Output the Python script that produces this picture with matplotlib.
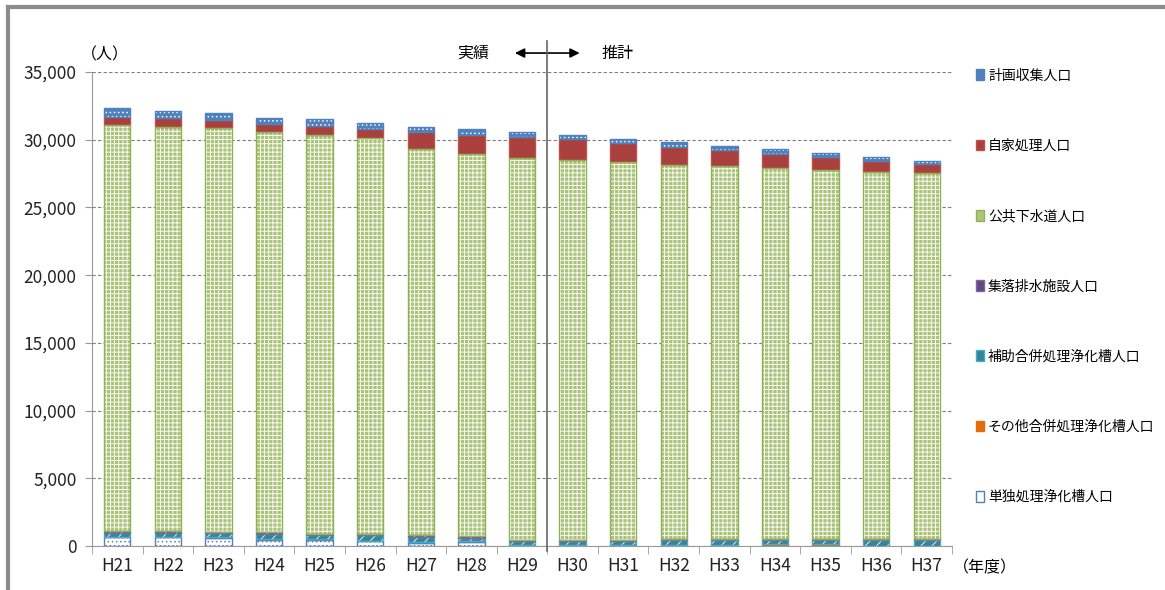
import matplotlib
matplotlib.use("Agg")
import matplotlib.pyplot as plt
import numpy as np
from matplotlib.lines import Line2D

plt.rcParams['font.family'] = ['Noto Sans CJK JP', 'DejaVu Sans']
plt.rcParams['hatch.linewidth'] = 0.6

years = ["H21", "H22", "H23", "H24", "H25", "H26", "H27", "H28", "H29",
         "H30", "H31", "H32", "H33", "H34", "H35", "H36", "H37"]

tandoku = [665, 665, 590, 470, 420, 345, 250, 300, 100, 70, 70, 70, 70, 0, 0, 0, 0]
sonota = [0, 0, 50, 75, 120, 30, 50, 75, 0, 0, 0, 0, 0, 120, 120, 0, 0]
hojo = [295, 295, 295, 370, 270, 420, 370, 220, 300, 300, 300, 350, 350, 300, 300, 440, 440]
shuraku = [125, 125, 125, 125, 100, 120, 120, 120, 75, 70, 70, 120, 120, 120, 120, 100, 100]
koukyou = [30005, 29865, 29790, 29540, 29470, 29225, 28510, 28255, 28185,
           28090, 27890, 27620, 27500, 27350, 27230, 27060, 26990]
jika = [570, 640, 570, 570, 640, 630, 1250, 1380, 1530, 1510, 1430, 1320, 1180, 1080, 960, 830, 660]
keikaku = [660, 560, 540, 490, 520, 490, 370, 420, 390, 290, 320, 330, 310, 320, 290, 300, 240]

labels = ["単独処理浄化槽人口", "その他合併処理浄化槽人口", "補助合併処理浄化槽人口",
          "集落排水施設人口", "公共下水道人口", "自家処理人口", "計画収集人口"]
series = [tandoku, sonota, hojo, shuraku, koukyou, jika, keikaku]
# (face, hatch color, hatch, edge)
styles = [
    ("white", "#4F81BD", "....", "#4F81BD"),
    ("#E46C0A", None, None, "#E46C0A"),
    ("#31859C", "white", "///", "#4BACC6"),
    ("#5F497A", "white", "\\\\\\", "#8064A2"),
    ("#ABC47A", "white", "++++", "#8EB453"),
    ("#A9403E", None, None, "#C0504D"),
    ("#4F81BD", "white", "....", "#4F81BD"),
]

fig = plt.figure(figsize=(11.65, 5.9), dpi=100)
ax = fig.add_axes([92 / 1165, 1 - 546 / 590, 860 / 1165, 474 / 590])

x = np.arange(len(years))
w = 0.52
bottom = np.zeros(len(years))
handles = []
for vals, lab, (fc, hc, hatch, ec) in zip(series, labels, styles):
    vals = np.array(vals, dtype=float)
    if hatch:
        ax.bar(x, vals, w, bottom=bottom, color=fc, edgecolor=hc, hatch=hatch,
               linewidth=0, zorder=3)
        ax.bar(x, vals, w, bottom=bottom, fill=False, edgecolor=ec,
               linewidth=1.0, zorder=4)
    else:
        ax.bar(x, vals, w, bottom=bottom, color=fc, edgecolor=ec, linewidth=1.0, zorder=3)
    handles.append(plt.Rectangle((0, 0), 1, 1, facecolor=fc, edgecolor=ec, linewidth=1))
    bottom += vals

ax.set_xlim(-0.5, len(years) - 0.5)
ax.set_ylim(0, 35000)
ax.set_yticks(np.arange(0, 35001, 5000))
ax.set_yticklabels([f"{v:,}" for v in range(0, 35001, 5000)], fontsize=12.5, color="#222222")
ax.yaxis.grid(True, linestyle=(0, (3, 2)), color="#7f7f7f", linewidth=0.8, zorder=0)
ax.set_axisbelow(True)

ax.set_xticks(x)
ax.set_xticklabels(years, fontsize=12.5, color="#222222")
ax.set_xticks(np.arange(-0.5, len(years), 1), minor=True)
ax.tick_params(axis="x", which="major", length=0, pad=8)
ax.tick_params(axis="x", which="minor", length=6, color="#999999", direction="out")
ax.tick_params(axis="y", length=5, color="#999999", pad=6)

for s in ["top", "right"]:
    ax.spines[s].set_visible(False)
ax.spines["left"].set_color("#999999")
ax.spines["bottom"].set_color("#999999")

# divider line between actual and estimate
trans = ax.get_xaxis_transform()
ax.add_line(Line2D([8.5, 8.5], [-0.01, 1.065], transform=trans, color="#666666",
                   linewidth=1.2, clip_on=False, zorder=5))
ax.annotate("", xy=(7.86, 1.04), xytext=(9.14, 1.04), xycoords=trans, textcoords=trans,
            arrowprops=dict(arrowstyle="<|-|>", color="black", lw=1.2,
                            mutation_scale=14, shrinkA=0, shrinkB=0))
ax.text(7.03, 1.04, "実績", transform=trans, ha="center", va="center", fontsize=11.5)
ax.text(9.88, 1.04, "推計", transform=trans, ha="center", va="center", fontsize=11.5)

fig.text(105 / 1165, 1 - 55 / 590, "（人）", ha="center", va="center", fontsize=11.5)
fig.text(985 / 1165, 1 - 568 / 590, "（年度）", ha="center", va="center", fontsize=11.5)

leg = fig.legend(handles[::-1], labels[::-1], loc="upper left",
                 bbox_to_anchor=(970 / 1165, 1 - 63 / 590), frameon=False,
                 fontsize=10, handlelength=0.6, handleheight=0.8, handletextpad=0.3,
                 labelspacing=4.05, borderaxespad=0)

# outer frame (top and left)
fig.add_artist(Line2D([8 / 1165, 1], [1 - 7 / 590, 1 - 7 / 590], transform=fig.transFigure,
                      color="#8c8c8c", linewidth=3))
fig.add_artist(Line2D([8 / 1165, 8 / 1165], [0, 1 - 7 / 590], transform=fig.transFigure,
                      color="#8c8c8c", linewidth=3))

fig.savefig("out.png", dpi=100)
